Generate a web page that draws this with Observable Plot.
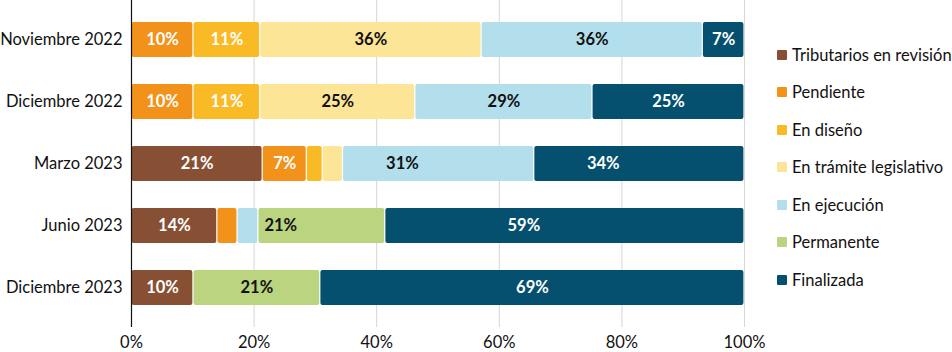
<!DOCTYPE html>
<html>
<head>
<meta charset="utf-8">
<script src="https://cdn.jsdelivr.net/npm/d3@7"></script>
<script src="https://cdn.jsdelivr.net/npm/@observablehq/plot@0.6"></script>
<style>
  html, body { margin: 0; padding: 0; background: #fff; }
  #wrap { position: relative; width: 952px; height: 352px; font-family: Lato, "Open Sans", sans-serif; }
  #legend { position: absolute; left: 777px; top: 36px; }
  .item { display: flex; align-items: center; height: 37.5px; font-size: 16.5px; color: #111; white-space: nowrap; }
  .sw { width: 10px; height: 10px; margin-right: 5px; border-radius: 1px; }
</style>
</head>
<body>
<div id="wrap"><div id="legend"></div></div>
<script>
const periods = ["Noviembre 2022", "Diciembre 2022", "Marzo 2023", "Junio 2023", "Diciembre 2023"];
const categories = ["Tributarios en revisión", "Pendiente", "En diseño", "En trámite legislativo", "En ejecución", "Permanente", "Finalizada"];
const colors = ["#874F34", "#F2921A", "#F9BA26", "#FDE597", "#B3DEEC", "#BAD480", "#04506E"];
const textColors = ["#fff", "#fff", "#fff", "#111", "#111", "#111", "#fff"];

const tributarios = [0, 0, 21.4, 14.0, 10.1];
const pendiente = [10.1, 10.1, 7.2, 3.3, 0];
const enDiseno = [10.9, 10.9, 2.6, 0, 0];
const enTramite = [36.1, 25.3, 3.3, 0, 0];
const enEjecucion = [36.1, 28.9, 31.2, 3.4, 0];
const permanente = [0, 0, 0, 20.7, 20.7];
const finalizada = [6.8, 24.8, 34.3, 58.6, 69.2];

const xTicks = [0, 20, 40, 60, 80, 100];

const series = [tributarios, pendiente, enDiseno, enTramite, enEjecucion, permanente, finalizada];
const data = [];
periods.forEach((p, i) => {
  categories.forEach((c, j) => {
    const v = series[j][i];
    if (v > 0) data.push({period: p, category: c, value: v, ci: j});
  });
});

const stackOpts = {y: "period", x: "value", order: categories};

const chart = Plot.plot({
  width: 952,
  height: 352,
  marginLeft: 131,
  marginRight: 208,
  marginTop: 0,
  marginBottom: 25,
  style: {fontFamily: "Lato, 'Open Sans', sans-serif", fontSize: "16.5px", color: "#111", background: "#fff"},
  x: {domain: [0, 100], ticks: xTicks, tickFormat: d => d + "%", label: null, tickSize: 0, tickPadding: 9},
  y: {domain: periods, label: null, tickSize: 0, tickPadding: 9, paddingInner: 0.44, paddingOuter: 0.336},
  color: {domain: categories, range: colors},
  marks: [
    Plot.gridX(xTicks, {stroke: "#d6d6d6", strokeOpacity: 1, strokeWidth: 1}),
    Plot.barX(data, Plot.stackX({...stackOpts, fill: "category", rx: 2, insetLeft: 0.6, insetRight: 0.6})),
    Plot.text(data.filter(d => d.value >= 5), Plot.stackX({
      ...stackOpts,
      text: d => Math.round(d.value) + "%",
      fill: d => textColors[d.ci],
      fontWeight: "bold",
      fontSize: 16.5
    })),
    Plot.ruleX([0], {stroke: "#111", strokeWidth: 1.2})
  ]
});
chart.style.position = "absolute";
chart.style.left = "0";
chart.style.top = "0";
document.getElementById("wrap").prepend(chart);

const legend = document.getElementById("legend");
categories.forEach((c, j) => {
  const it = document.createElement("div");
  it.className = "item";
  const sw = document.createElement("div");
  sw.className = "sw";
  sw.style.background = colors[j];
  const t = document.createElement("span");
  t.textContent = c;
  it.appendChild(sw);
  it.appendChild(t);
  legend.appendChild(it);
});
</script>
</body>
</html>
